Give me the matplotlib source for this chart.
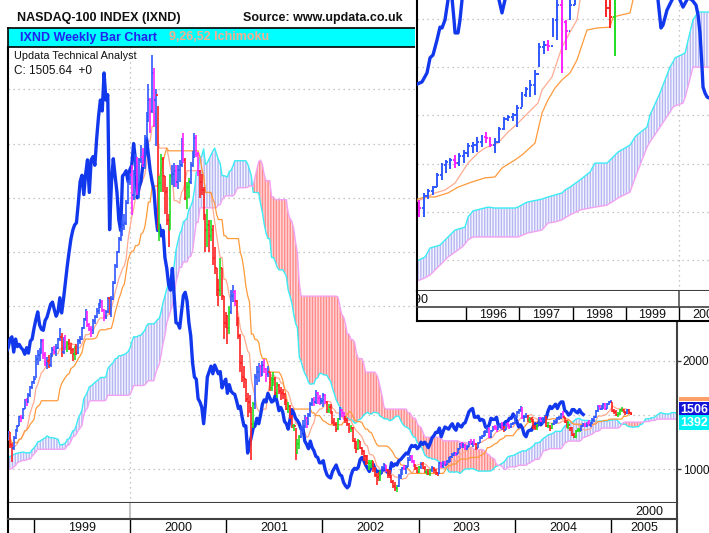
import numpy as np
import pandas as pd
import matplotlib
matplotlib.use("Agg")
import matplotlib.pyplot as plt
from matplotlib.collections import LineCollection
from matplotlib.patches import Rectangle

plt.rcParams["font.family"] = ["Liberation Sans", "DejaVu Sans"]
plt.rcParams["hatch.linewidth"] = 1.0

# weekly NASDAQ-100 bars, one value per Friday starting 1997-03-21
first_week = "1997-03-21"
closes = [
    # 1997
    845, 825, 815, 790, 810, 830, 880, 900, 905, 930, 935, 930, 960, 965, 950,
    985, 1010, 1040, 1080, 1090, 1070, 1040, 1060, 1040, 1070, 1060, 1090, 1090,
    1120, 1140, 1100, 1040, 1000, 1010, 1020, 1060, 1040, 1060, 1000, 980, 975,
    # 1998
    1000, 960, 1000, 1020, 1060, 1100, 1120, 1140, 1170, 1170, 1180, 1200, 1210,
    1230, 1220, 1240, 1210, 1240, 1220, 1210, 1200, 1180, 1200, 1190, 1240, 1300,
    1330, 1380, 1420, 1390, 1370, 1340, 1300, 1320, 1200, 1200, 1280, 1280, 1340,
    1220, 1200, 1290, 1360, 1400, 1480, 1470, 1560, 1640, 1620, 1680, 1760, 1800,
    # 1999
    1836, 2020, 2050, 2070, 2180, 2050, 1980, 2000, 1960, 2050, 2100, 2080, 2120,
    2200, 2220, 2080, 2200, 2130, 2150, 2120, 2100, 2060, 2120, 2070, 2180, 2200,
    2300, 2380, 2450, 2330, 2290, 2280, 2370, 2400, 2460, 2520, 2540, 2470, 2410,
    2450, 2580, 2440, 2570, 2720, 2870, 3000, 3120, 3200, 3250, 3270, 3450, 3650, 3708,
    # 2000
    3530, 3720, 3850, 3550, 3850, 3880, 3800, 4050, 4250, 4400, 4300, 4650, 4400,
    4450, 3207, 3640, 3860, 3700, 3550, 3300, 3200, 3700, 3720, 3750, 3650, 3760,
    3800, 4000, 3850, 3500, 3600, 3650, 3800, 3880, 4050, 3900, 3750, 3650, 3570,
    3350, 3200, 3250, 3150, 3200, 2950, 2850, 2700, 2650, 2850, 2600, 2350, 2342,
    # 2001
    2300, 2450, 2600, 2630, 2550, 2350, 2230, 1980, 1850, 1830, 1650, 1620, 1570,
    1420, 1600, 1850, 1900, 1950, 1880, 1960, 1920, 1880, 1900, 1750, 1800, 1830,
    1700, 1780, 1720, 1700, 1690, 1630, 1560, 1580, 1480, 1400, 1400, 1150, 1230,
    1300, 1380, 1400, 1470, 1420, 1500, 1600, 1640, 1620, 1700, 1660, 1620, 1630,
    # 2002
    1680, 1620, 1540, 1570, 1530, 1440, 1420, 1370, 1460, 1550, 1520, 1470, 1450,
    1420, 1370, 1380, 1260, 1230, 1190, 1260, 1200, 1170, 1120, 1110, 1060, 1060,
    1080, 1000, 950, 930, 920, 980, 1010, 1040, 990, 950, 940, 880, 850,
    830, 850, 940, 990, 1010, 1000, 1020, 1090, 1110, 1080, 1040, 1010, 980,
    # 2003
    1020, 1050, 1010, 980, 980, 960, 990, 1010, 990, 970, 960, 1060, 1030,
    1050, 1040, 1080, 1090, 1110, 1130, 1150, 1140, 1190, 1220, 1210, 1220, 1190,
    1210, 1250, 1230, 1250, 1230, 1200, 1240, 1290, 1310, 1340, 1340, 1380, 1300,
    1350, 1390, 1380, 1370, 1400, 1420, 1380, 1360, 1420, 1400, 1390, 1420, 1430,
    # 2004
    1480, 1530, 1550, 1560, 1480, 1480, 1490, 1450, 1460, 1450, 1390, 1380, 1410,
    1470, 1460, 1460, 1480, 1400, 1400, 1380, 1420, 1440, 1440, 1470, 1470, 1510,
    1480, 1440, 1390, 1410, 1380, 1320, 1300, 1350, 1360, 1360, 1400, 1420, 1400,
    1430, 1410, 1430, 1450, 1480, 1540, 1580, 1560, 1580, 1600, 1560, 1600, 1620, 1621,
    # 2005
    1540, 1530, 1500, 1510, 1550, 1550, 1530, 1520, 1550, 1520, 1505.64,
]
highs = [
    860, 850, 850, 825, 815, 840, 885, 910, 925, 935, 945, 945, 965, 980, 970,
    990, 1020, 1050, 1090, 1105, 1100, 1075, 1070, 1065, 1080, 1080, 1095, 1100,
    1130, 1155, 1145, 1105, 1050, 1030, 1030, 1065, 1065, 1075, 1065, 1010, 990,
    1005, 1010, 1005, 1030, 1065, 1105, 1125, 1145, 1175, 1185, 1190, 1210, 1225,
    1240, 1240, 1250, 1245, 1245, 1250, 1235, 1220, 1210, 1205, 1210, 1245, 1305,
    1340, 1385, 1430, 1425, 1400, 1380, 1350, 1340, 1330, 1250, 1290, 1300, 1350,
    1345, 1240, 1310, 1370, 1410, 1490, 1500, 1565, 1645, 1660, 1700, 1770, 1810,
    1860, 2050, 2100, 2120, 2200, 2200, 2080, 2030, 2050, 2070, 2130, 2140, 2150,
    2210, 2300, 2260, 2220, 2240, 2180, 2200, 2160, 2120, 2140, 2150, 2200, 2230,
    2310, 2390, 2480, 2460, 2350, 2320, 2380, 2420, 2490, 2530, 2570, 2560, 2480,
    2470, 2590, 2590, 2600, 2730, 2890, 3010, 3140, 3220, 3300, 3350, 3480, 3660, 3730,
    3800, 3760, 3900, 3880, 3870, 3990, 3960, 4080, 4290, 4550, 4420, 4816, 4700,
    4500, 4350, 3700, 3900, 3880, 3700, 3600, 3350, 3720, 3800, 3820, 3800, 3800,
    3850, 4050, 4100, 3870, 3650, 3680, 3830, 3930, 4100, 4080, 3920, 3760, 3720,
    3600, 3350, 3400, 3300, 3300, 3250, 3050, 2850, 2750, 2950, 2850, 2600, 2450,
    2420, 2500, 2650, 2700, 2650, 2560, 2400, 2250, 2050, 1950, 1830, 1700, 1680,
    1570, 1620, 1880, 1950, 1980, 1960, 2000, 2020, 1930, 1950, 1900, 1850, 1900,
    1850, 1800, 1790, 1760, 1740, 1700, 1650, 1620, 1590, 1500, 1420, 1380, 1280,
    1320, 1400, 1450, 1500, 1480, 1520, 1620, 1660, 1670, 1730, 1710, 1680, 1660,
    1700, 1690, 1630, 1600, 1600, 1540, 1470, 1440, 1470, 1570, 1560, 1530, 1490,
    1470, 1430, 1410, 1390, 1290, 1260, 1280, 1260, 1210, 1180, 1130, 1130, 1090,
    1090, 1080, 1020, 970, 980, 990, 1030, 1060, 1040, 1000, 990, 950, 900,
    880, 860, 960, 1000, 1020, 1040, 1040, 1110, 1130, 1130, 1090, 1050, 1020,
    1030, 1070, 1070, 1030, 1000, 1000, 1000, 1030, 1020, 1000, 980, 1070, 1070,
    1080, 1080, 1090, 1110, 1120, 1150, 1160, 1160, 1200, 1240, 1250, 1240, 1230,
    1220, 1260, 1280, 1260, 1280, 1240, 1250, 1310, 1320, 1350, 1360, 1390, 1380,
    1360, 1400, 1410, 1400, 1410, 1430, 1440, 1400, 1430, 1440, 1420, 1430, 1440,
    1490, 1540, 1560, 1580, 1570, 1500, 1520, 1500, 1480, 1480, 1460, 1410, 1420,
    1480, 1480, 1480, 1500, 1490, 1440, 1410, 1430, 1450, 1460, 1480, 1490, 1520,
    1540, 1480, 1450, 1448, 1390, 1390, 1330, 1360, 1380, 1380, 1410, 1430, 1430,
    1440, 1450, 1440, 1470, 1490, 1550, 1590, 1590, 1590, 1610, 1610, 1610, 1630, 1635,
    1620, 1560, 1550, 1530, 1560, 1570, 1560, 1540, 1560, 1560, 1530,
]
lows = [
    830, 815, 800, 780, 770, 795, 825, 870, 890, 900, 920, 915, 925, 955, 940,
    945, 980, 1005, 1035, 1070, 1060, 1030, 1020, 1035, 1035, 1045, 1055, 1070,
    1085, 1115, 1090, 1020, 940, 985, 990, 1010, 1030, 1035, 990, 960, 965,
    970, 950, 955, 990, 1010, 1055, 1090, 1110, 1135, 1145, 1160, 1175, 1195,
    1200, 1210, 1205, 1195, 1200, 1210, 1200, 1185, 1170, 1160, 1170, 1185, 1235,
    1295, 1325, 1375, 1380, 1350, 1320, 1290, 1280, 1190, 1150, 1170, 1250, 1270,
    1200, 1063, 1180, 1280, 1340, 1395, 1440, 1460, 1555, 1580, 1610, 1670, 1740,
    1790, 1840, 1960, 2000, 2060, 2020, 1950, 1920, 1930, 1940, 2030, 2060, 2040,
    2110, 2180, 2030, 2060, 2100, 2080, 2100, 2060, 2000, 2010, 2050, 2060, 2150,
    2190, 2290, 2370, 2310, 2270, 2220, 2250, 2340, 2390, 2430, 2490, 2450, 2370,
    2380, 2440, 2420, 2400, 2560, 2710, 2850, 2990, 3100, 3150, 3200, 3250, 3440, 3620,
    3340, 3480, 3700, 3530, 3500, 3820, 3780, 3770, 4040, 4200, 4100, 4280, 4150,
    3980, 3200, 3100, 3550, 3550, 3350, 3250, 3050, 3200, 3620, 3600, 3600, 3580,
    3650, 3780, 3820, 3480, 3400, 3500, 3630, 3780, 3870, 3880, 3700, 3500, 3530,
    3300, 3000, 3050, 3000, 3100, 2880, 2800, 2600, 2500, 2600, 2560, 2200, 2300,
    2150, 2250, 2430, 2540, 2500, 2320, 2200, 1900, 1800, 1750, 1620, 1480, 1520,
    1090, 1380, 1560, 1780, 1800, 1850, 1860, 1890, 1800, 1850, 1720, 1720, 1770,
    1680, 1660, 1690, 1640, 1650, 1590, 1550, 1520, 1460, 1380, 1350, 1090, 1140,
    1190, 1290, 1330, 1380, 1380, 1410, 1480, 1580, 1580, 1600, 1600, 1590, 1600,
    1570, 1600, 1520, 1520, 1510, 1420, 1400, 1340, 1360, 1450, 1480, 1450, 1430,
    1400, 1330, 1340, 1250, 1190, 1150, 1180, 1190, 1130, 1080, 1040, 1050, 990,
    1010, 980, 930, 860, 890, 890, 960, 990, 980, 920, 920, 870, 830,
    800, 795, 840, 910, 950, 990, 960, 1020, 1080, 1060, 1020, 990, 970,
    970, 1000, 1000, 970, 950, 950, 940, 980, 970, 950, 940, 960, 1010,
    1010, 1030, 1040, 1060, 1070, 1100, 1120, 1120, 1140, 1190, 1200, 1200, 1180,
    1180, 1210, 1220, 1210, 1220, 1180, 1200, 1240, 1280, 1300, 1310, 1330, 1290,
    1290, 1350, 1360, 1340, 1360, 1390, 1370, 1340, 1360, 1390, 1370, 1380, 1410,
    1420, 1470, 1510, 1530, 1460, 1440, 1470, 1440, 1430, 1440, 1370, 1360, 1360,
    1400, 1440, 1420, 1440, 1390, 1380, 1350, 1370, 1410, 1420, 1430, 1450, 1460,
    1470, 1430, 1380, 1370, 1350, 1310, 1290, 1290, 1340, 1340, 1350, 1390, 1390,
    1390, 1400, 1390, 1420, 1440, 1470, 1530, 1550, 1550, 1560, 1550, 1560, 1590, 1610,
    1530, 1510, 1490, 1480, 1500, 1530, 1520, 1500, 1510, 1510, 1500,
]

# monthly bars of the 1995-1998 inset chart, Jan 1995 onwards
inset_first_year = 1995
inset_closes = [405, 400, 441, 459, 472, 514, 548, 559, 566, 555, 579, 590,
                614, 617, 628, 645, 640, 617, 628, 672, 707, 714, 721, 745,
                790, 810, 824, 862, 955, 962, 960, 1050, 1100, 1040, 1010, 1100,
                1180, 1280, 1350, 1400, 1330, 1460, 1200, 1090, 1060, 1130, 1350, 1550]
inset_highs = [420, 428, 452, 466, 476, 521, 555, 566, 573, 583, 590, 600,
               624, 628, 645, 652, 662, 645, 641, 679, 714, 721, 728, 755,
               800, 817, 840, 876, 969, 975, 980, 1056, 1150, 1180, 1049, 1120,
               1200, 1300, 1380, 1420, 1400, 1480, 1550, 1200, 1170, 1250, 1400, 1600]
inset_lows = [380, 369, 369, 431, 445, 472, 497, 521, 535, 538, 545, 555,
              576, 590, 593, 610, 624, 610, 590, 624, 669, 700, 700, 679,
              750, 783, 783, 790, 886, 930, 940, 990, 980, 865, 945, 1049,
              1100, 1170, 1250, 1320, 1300, 1320, 1180, 1060, 1021, 925, 1200, 1350]

# ichimoku lines of the inset chart
inset_cloud_t = [1995.043, 1995.231, 1995.325, 1995.512, 1995.662, 1995.794, 1995.925,
                 1995.981, 1996.038, 1996.131, 1996.413, 1996.544, 1996.732, 1996.919,
                 1996.976, 1997.107, 1997.163, 1997.351, 1997.426, 1997.538, 1997.670,
                 1997.801, 1997.857, 1997.951, 1998.139, 1998.326, 1998.420, 1998.645,
                 1998.852, 1998.889, 1999.077, 1999.171, 1999.208, 1999.396, 1999.452,
                 1999.640, 1999.827, 1999.884, 1999.921, 2000.071, 2000.109, 2000.259,
                 2000.353, 2000.559]
inset_span_a = [214, 231, 262, 272, 300, 324, 331, 334, 369, 390, 403, 400, 400, 400,
                403, 417, 421, 428, 431, 438, 445, 452, 462, 472, 497, 524, 555, 555,
                593, 597, 617, 645, 652, 679, 721, 797, 886, 904, 918, 931, 935, 1049,
                1076, 1076]
inset_span_b = [145, 159, 169, 203, 231, 248, 265, 276, 290, 300, 300, 300, 300, 300,
                300, 310, 314, 321, 324, 348, 352, 359, 366, 376, 393, 400, 403, 410,
                434, 438, 455, 503, 521, 610, 628, 679, 731, 748, 752, 762, 780, 886,
                886, 886]
inset_tenkan_t = [1995.043, 1995.231, 1995.418, 1995.606, 1995.794, 1996.038, 1996.225,
                  1996.356, 1996.600, 1996.788, 1996.976, 1997.163, 1997.351, 1997.426,
                  1997.613, 1997.801, 1997.951, 1998.083, 1998.139, 1998.326, 1998.514]
inset_tenkan = [421, 435, 452, 462, 486, 555, 590, 607, 624, 662, 693, 728, 762, 807,
                852, 955, 1007, 1049, 1118, 1221, 1325]
inset_kijun_t = [1995.043, 1995.231, 1995.418, 1995.662, 1995.850, 1996.113, 1996.356,
                 1996.544, 1996.675, 1996.919, 1997.051, 1997.295, 1997.351, 1997.426,
                 1997.538, 1997.670, 1997.801, 1997.951, 1998.083, 1998.270, 1998.458,
                 1998.702, 1998.758, 1999.077, 1999.133, 1999.265]
inset_kijun = [428, 438, 438, 452, 472, 490, 504, 507, 538, 566, 583, 624, 669, 728,
               773, 814, 842, 866, 911, 1014, 1021, 1024, 1059, 1073, 1118, 1256]
inset_chikou_t = [1995.043, 1995.174, 1995.268, 1995.325, 1995.381, 1995.456, 1995.512,
                  1995.550, 1995.606, 1995.662, 1995.700, 1995.737, 1995.775, 1995.794,
                  1995.850, 1995.887, 1995.925, 1995.981, 1996.263, 1996.544, 1996.619,
                  1996.675, 1996.731, 1996.788, 1997.764, 1999.265, 1999.546, 1999.602,
                  1999.658, 1999.696, 1999.771, 1999.865, 1999.921, 1999.996, 2000.071,
                  2000.165, 2000.240, 2000.315, 2000.353, 2000.390, 2000.428, 2000.447,
                  2000.484, 2000.522, 2000.559]
inset_chikou = [824, 835, 866, 918, 928, 980, 1024, 1021, 1049, 1118, 1170, 1125, 1049,
                1004, 1004, 1049, 1118, 1187, 1325, 1152, 1118, 1073, 1118, 1187, 1635,
                1463, 1152, 1118, 1021, 1031, 1083, 1118, 1135, 1125, 1093, 1125, 1118,
                1100, 1066, 1004, 886, 817, 797, 783, 780]

main_years = [1999, 2000, 2001, 2002, 2003, 2004, 2005]
inset_years = [1996, 1997, 1998, 1999, 2000]

BAR_BLUE = "#2f58ff"
BAR_RED = "#ff2222"
BAR_GREEN = "#22dd22"
BAR_MAGENTA = "#ff22ff"
CHIKOU = "#1238ee"
TENKAN = "#ffab90"
KIJUN = "#ff9a3c"
SPAN_A = "#3cecf4"
SPAN_B = "#f2a2f2"
GRID = "#b4b4b4"

W, H = 709, 533
fig = plt.figure(figsize=(W / 100, H / 100), dpi=100)


def box(x0, y0, x1, y1):
    # pixel rectangle (top-left origin) -> figure fraction
    return [x0 / W, 1 - y1 / H, (x1 - x0) / W, (y1 - y0) / H]


def ftext(x, y, s, **kw):
    fig.text(x / W, 1 - y / H, s, **kw)


def dec_year(idx):
    return np.asarray(idx.year + (idx.dayofyear - 1) / 365.25, dtype=float)


def bar_colours(c, ten):
    prev = np.r_[c[0], c[:-1]]
    out = []
    for ci, pi, ti in zip(c, prev, ten):
        up = ci >= pi
        above = np.isnan(ti) or ci >= ti
        if up and above:
            out.append(BAR_BLUE)
        elif up:
            out.append(BAR_GREEN)
        elif above:
            out.append(BAR_MAGENTA)
        else:
            out.append(BAR_RED)
    return out


def draw_bars(ax, x, c, h, l, colours, tick, lw):
    o = np.r_[c[0], c[:-1]]
    segs, cols = [], []
    for xi, oi, hi_, li, ci, col in zip(x, o, h, l, c, colours):
        segs += [[(xi, li), (xi, hi_)], [(xi - tick, oi), (xi, oi)],
                 [(xi, ci), (xi + tick, ci)]]
        cols += [col] * 3
    ax.add_collection(LineCollection(segs, colors=cols, linewidths=lw, zorder=5))


def cloud(ax, x, a, b):
    a = np.asarray(a, float)
    b = np.asarray(b, float)
    ax.fill_between(x, a, b, where=a >= b, interpolate=True, facecolor="#f4f4ff",
                    edgecolor="#b6b6f2", hatch="||||||", linewidth=0, zorder=1)
    ax.fill_between(x, a, b, where=a < b, interpolate=True, facecolor="#ffd6d6",
                    edgecolor="#ff8a8a", hatch="||||||", linewidth=0, zorder=1)
    ax.plot(x, a, color=SPAN_A, lw=1.0, zorder=2)
    ax.plot(x, b, color=SPAN_B, lw=1.0, zorder=2)


# ---------------- ichimoku from the weekly bars ----------------
hi = pd.Series(highs, dtype=float)
lo = pd.Series(lows, dtype=float)
cl = np.asarray(closes, dtype=float)


def midpoint(n):
    return ((hi.rolling(n).max() + lo.rolling(n).min()) / 2).to_numpy()


tenkan = midpoint(9)
kijun = midpoint(26)
span_a = (tenkan + kijun) / 2
span_b = midpoint(52)

n = len(closes)
weeks = pd.date_range(first_week, periods=n + 26, freq="W-FRI")
xw = dec_year(weeks)
x_bar = xw[:n]
x_span = xw[26:]

# ---------------- main weekly chart ----------------
ax = fig.add_axes(box(8, 47, 677, 503))
ax.set_xlim(1998.729, 2005.6875)
ax.set_ylim(690, 4889)
for v in range(1000, 5000, 500):
    ax.axhline(v, color=GRID, lw=0.9, ls=(0, (1, 3)), zorder=0)
ax.axvline(2000.0, color=GRID, lw=0.9, ls=(0, (1, 3)), zorder=0)

cloud(ax, x_span, span_a, span_b)
ax.plot(x_bar, tenkan, color=TENKAN, lw=0.9, zorder=3)
ax.plot(x_bar, kijun, color=KIJUN, lw=0.9, zorder=3)
ax.plot(xw[:n - 26], cl[26:], color=CHIKOU, lw=2.4, zorder=4,
        solid_joinstyle="round")
draw_bars(ax, x_bar, cl, highs, lows, bar_colours(cl, tenkan), 0.014, 1.2)

ax.set_xticks([])
ax.yaxis.tick_right()
ax.set_yticks([1000, 2000])
ax.tick_params(axis="y", direction="out", length=3, width=1, color="#404040",
               labelsize=8.6, pad=1, labelcolor="#111111")
ax.spines["top"].set_visible(False)
ax.spines["left"].set_color("black")
ax.spines["left"].set_linewidth(1.5)
for side in ("right", "bottom"):
    ax.spines[side].set_color("#404040")
    ax.spines[side].set_linewidth(1.5)

# last-value tags on the price scale; the tenkan tag only peeks out above the close tag
ten_y = ax.transData.transform((0, tenkan[-1]))[1]
fig.patches.append(Rectangle((679 / W, (ten_y + 11) / H), 30 / W, 4 / H,
                             transform=fig.transFigure, fc="#ff9f6a", ec="none",
                             zorder=0))
last_a = span_a[n - 27]
ax.annotate(f"{cl[-1]:.0f}", xy=(1, cl[-1]), xycoords=("axes fraction", "data"),
            xytext=(2.5, 3.5), textcoords="offset points", va="center", ha="left",
            fontsize=9, fontweight="bold", color="white", annotation_clip=False,
            bbox=dict(boxstyle="square,pad=0.12", fc="#1414d8", ec="none"), zorder=11)
ax.annotate(f"{last_a:.0f}", xy=(1, last_a), xycoords=("axes fraction", "data"),
            xytext=(2.5, 3), textcoords="offset points", va="center", ha="left",
            fontsize=9, fontweight="bold", color="white", annotation_clip=False,
            bbox=dict(boxstyle="square,pad=0.12", fc="#00f4f4", ec="none"), zorder=11)

# decade strip and year strip under the main chart
strip = fig.add_axes(box(8, 503, 677, 519))
strip.set_xlim(ax.get_xlim())
strip.set_ylim(0, 1)
strip.axvline(2000.0, color="#c4c4c4", lw=1.5)
strip.text(2005.40, 0.45, "2000", ha="center", va="center", fontsize=9, color="#111111")
yrs = fig.add_axes(box(8, 519, 677, 540))
yrs.set_xlim(ax.get_xlim())
yrs.set_ylim(0, 1)
lo_x, hi_x = ax.get_xlim()
for yv in main_years:
    yrs.axvline(yv, color="black", lw=1.0)
    mid = (max(yv, lo_x) + min(yv + 1, hi_x)) / 2
    yrs.text(mid, 0.55, str(yv), ha="center", va="center", fontsize=9, color="#111111")
for a_ in (strip, yrs):
    a_.set_xticks([])
    a_.set_yticks([])
    a_.spines["left"].set_color("black")
    a_.spines["left"].set_linewidth(1.5)
    a_.spines["right"].set_color("#404040")
    a_.spines["right"].set_linewidth(1.5)
    a_.spines["bottom"].set_visible(False)
strip.spines["top"].set_visible(False)
yrs.spines["top"].set_color("#404040")
yrs.spines["top"].set_linewidth(1.5)

# header bar
hdr = fig.add_axes(box(8, 28, 709, 47))
hdr.set_facecolor("#00ffff")
hdr.set_xticks([])
hdr.set_yticks([])
for s in hdr.spines.values():
    s.set_color("black")
    s.set_linewidth(1.2)
ftext(20, 37.5, "IXND Weekly Bar Chart", color="#2222ee", fontsize=9,
      fontweight="bold", va="center")
ftext(169, 37.5, "9,26,52 Ichimoku", color="#f7ad90", fontsize=9,
      fontweight="bold", va="center")
ftext(17, 18, "NASDAQ-100 INDEX (IXND)", color="#111111", fontsize=9,
      fontweight="bold", va="center")
ftext(243, 18, "Source: www.updata.co.uk", color="#111111", fontsize=9,
      fontweight="bold", va="center")
ftext(14, 56, "Updata Technical Analyst", color="#111111", fontsize=7.8, va="center")
ftext(14, 71, "C: 1505.64  +0", color="#111111", fontsize=8.5, va="center")

# ---------------- monthly inset chart ----------------
cover = fig.add_axes(box(415, 0, 709, 322))
cover.set_facecolor("white")
cover.set_xticks([])
cover.set_yticks([])
for s in cover.spines.values():
    s.set_visible(False)
cover.set_zorder(8)

ins = fig.add_axes(box(416.5, 0, 709, 291))
ins.set_zorder(9)
ins.set_xlim(1995.071, 2000.559)
ins.set_ylim(113.7, 1117.6)
for v in np.arange(221, 1100, 166.2):
    ins.axhline(v, color=GRID, lw=0.9, ls=(0, (1, 3)), zorder=0)
ins.axvline(2000.0, color=GRID, lw=0.9, ls=(0, (1, 3)), zorder=0)
cloud(ins, inset_cloud_t, inset_span_a, inset_span_b)
ins.plot(inset_tenkan_t, inset_tenkan, color=TENKAN, lw=0.9, zorder=3)
ins.plot(inset_kijun_t, inset_kijun, color=KIJUN, lw=0.9, zorder=3)
ins.plot(inset_chikou_t, inset_chikou, color=CHIKOU, lw=2.4, zorder=4,
         solid_joinstyle="round")
m_idx = np.arange(len(inset_closes))
x_month = inset_first_year + (m_idx + 0.5) / 12
ic = np.asarray(inset_closes, float)
i_ten = ((pd.Series(inset_highs).rolling(9, min_periods=1).max()
          + pd.Series(inset_lows).rolling(9, min_periods=1).min()) / 2).to_numpy()
draw_bars(ins, x_month, ic, inset_highs, inset_lows, bar_colours(ic, i_ten), 0.035, 1.4)
ins.set_xticks([])
ins.set_yticks([])
ins.spines["top"].set_visible(False)
ins.spines["right"].set_visible(False)
ins.spines["left"].set_color("black")
ins.spines["left"].set_linewidth(1.5)
ins.spines["bottom"].set_color("#404040")
ins.spines["bottom"].set_linewidth(1.5)

istrip = fig.add_axes(box(416.5, 291, 709, 307))
istrip.set_zorder(9)
istrip.set_xlim(ins.get_xlim())
istrip.set_ylim(0, 1)
istrip.axvline(2000.0, color="#555555", lw=1.2)
istrip.text(1995.29, 0.45, "1990", ha="right", va="center", fontsize=9,
            color="#111111", clip_on=True)
iyrs = fig.add_axes(box(416.5, 307, 709, 321))
iyrs.set_zorder(9)
iyrs.set_xlim(ins.get_xlim())
iyrs.set_ylim(0, 1)
for yv in inset_years:
    iyrs.axvline(yv, color="black", lw=1.0)
    iyrs.text(yv + 0.5, 0.45, str(yv), ha="center", va="center", fontsize=9,
              color="#111111", clip_on=True)
for a_ in (istrip, iyrs):
    a_.set_xticks([])
    a_.set_yticks([])
    a_.spines["right"].set_visible(False)
    a_.spines["left"].set_color("black")
    a_.spines["left"].set_linewidth(1.5)
istrip.spines["top"].set_visible(False)
istrip.spines["bottom"].set_visible(False)
iyrs.spines["top"].set_color("#404040")
iyrs.spines["top"].set_linewidth(1.2)
iyrs.spines["bottom"].set_color("black")
iyrs.spines["bottom"].set_linewidth(1.5)

fig.savefig("out.png", dpi=100)
